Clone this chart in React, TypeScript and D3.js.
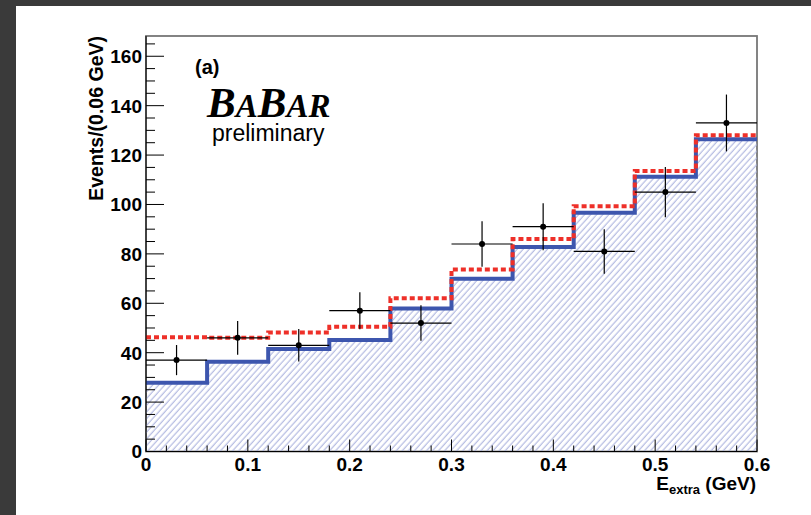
// E_extra distribution with fit components, drawn with d3.

import * as d3 from "d3";

// bins of 0.06 GeV, lower edges
const binLow = [0, 0.06, 0.12, 0.18, 0.24, 0.3, 0.36, 0.42, 0.48, 0.54];
const binWidth = 0.06;
// data points and their errors
const dataCounts = [37, 46, 43, 57, 52, 84, 91, 81, 105, 133];
const dataErr = [6.1, 6.8, 6.6, 7.5, 7.2, 9.2, 9.5, 9.0, 10.2, 11.5];
// blue (hatched) component and red dashed total
const bkgFit = [27.8, 36.3, 41.5, 45.1, 57.9, 69.9, 82.8, 96.7, 111.2, 126.4];
const totalFit = [46.3, 46.0, 48.2, 50.5, 62.0, 73.7, 86.0, 99.3, 113.5, 128.0];

const xTicks = [0, 0.1, 0.2, 0.3, 0.4, 0.5, 0.6];
const yTicks = [0, 20, 40, 60, 80, 100, 120, 140, 160];

const W = 811;
const H = 515;
const font = "'Liberation Sans', Arial, Helvetica, sans-serif";

export default function App() {
  const left = 146;
  const right = 757;
  const top = 36;
  const bottom = 451.5;

  const x = d3.scaleLinear([0, 0.6], [left, right]);
  const y = d3.scaleLinear([0, 168.2], [bottom, top]);

  const edges = [...binLow, binLow[binLow.length - 1] + binWidth];
  const stepPts = (vals: number[]) =>
    edges.map((e, i) => [e, vals[Math.min(i, vals.length - 1)]] as [number, number]);

  const line = d3
    .line<[number, number]>()
    .x((d) => x(d[0]))
    .y((d) => y(d[1]))
    .curve(d3.curveStepAfter);
  const area = d3
    .area<[number, number]>()
    .x((d) => x(d[0]))
    .y0(y(0))
    .y1((d) => y(d[1]))
    .curve(d3.curveStepAfter);

  const xMinor = d3.range(0, 0.6001, 0.02);
  const yMinor = d3.range(0, 168, 5);

  return (
    <div style={{ position: "fixed", left: 0, top: 0 }}>
      <svg width={W} height={H} style={{ display: "block" }}>
        <defs>
          <pattern
            id="hatch"
            patternUnits="userSpaceOnUse"
            width="4.5"
            height="4.5"
            patternTransform="rotate(-48)"
          >
            <line x1="0" y1="2" x2="4.5" y2="2" stroke="#a4abdb" strokeWidth="1" />
          </pattern>
        </defs>
        <rect x="0" y="0" width={W} height={H} fill="#3a3a3a" />
        <rect x="16" y="6" width={W - 16} height={H - 6} fill="#ffffff" />

        {/* frame */}
        <rect
          x={left}
          y={top}
          width={right - left}
          height={bottom - top}
          fill="none"
          stroke="#777"
          strokeWidth="1.8"
        />

        {/* hatched component */}
        <path d={area(stepPts(bkgFit)) || ""} fill="url(#hatch)" />
        <path
          d={line(stepPts(bkgFit)) || ""}
          fill="none"
          stroke="#3d56ae"
          strokeWidth="4"
        />
        <path
          d={line(stepPts(totalFit)) || ""}
          fill="none"
          stroke="#ee3029"
          strokeWidth="4"
          strokeDasharray="5,3"
        />

        {/* data points */}
        <g stroke="#000" strokeWidth="1.2">
          {dataCounts.map((v, i) => {
            const c = binLow[i] + binWidth / 2;
            return (
              <g key={i}>
                <line x1={x(binLow[i])} x2={x(binLow[i] + binWidth)} y1={y(v)} y2={y(v)} />
                <line x1={x(c)} x2={x(c)} y1={y(v - dataErr[i])} y2={y(v + dataErr[i])} />
                <circle cx={x(c)} cy={y(v)} r="3" fill="#000" stroke="none" />
              </g>
            );
          })}
        </g>

        {/* axes */}
        <g stroke="#000" strokeWidth="1">
          <line x1={left} x2={left} y1={top} y2={bottom} />
          <line x1={left} x2={right} y1={bottom} y2={bottom} />
          {xMinor.map((t, i) => (
            <line key={"xm" + i} x1={x(t)} x2={x(t)} y1={bottom} y2={bottom - (i % 5 === 0 ? 12 : 6)} />
          ))}
          {yMinor.map((t, i) => (
            <line key={"ym" + i} x1={left} x2={left + (i % 4 === 0 ? 18 : 9)} y1={y(t)} y2={y(t)} />
          ))}
        </g>

        <g fontFamily={font} fontWeight="bold" fontSize="19" fill="#000">
          {xTicks.map((t) => (
            <text key={"xt" + t} x={x(t)} y={bottom + 19} textAnchor="middle">
              {d3.format("~g")(t)}
            </text>
          ))}
          {yTicks.map((t) => (
            <text key={"yt" + t} x={left - 4} y={y(t)} dy="0.36em" textAnchor="end">
              {t}
            </text>
          ))}
          <text x={right - 1} y={490} textAnchor="end" fontSize="19">
            E
            <tspan fontSize="13" dy="4">extra</tspan>
            <tspan dy="-4"> (GeV)</tspan>
          </text>
          <text
            transform={`translate(103, ${top}) rotate(-90)`}
            textAnchor="end"
            fontSize="19.5"
          >
            Events/(0.06 GeV)
          </text>
          <text x={195} y={74} fontSize="20">
            (a)
          </text>
        </g>

        <text
          x={207}
          y={117}
          fontFamily="'Liberation Serif', 'Times New Roman', serif"
          fontStyle="italic"
          fontWeight="bold"
          fontSize="43"
        >
          B<tspan fontSize="33">A</tspan>B<tspan fontSize="33">AR</tspan>
        </text>
        <text x={212} y={141} fontFamily={font} fontSize="23">
          preliminary
        </text>
      </svg>
    </div>
  );
}
